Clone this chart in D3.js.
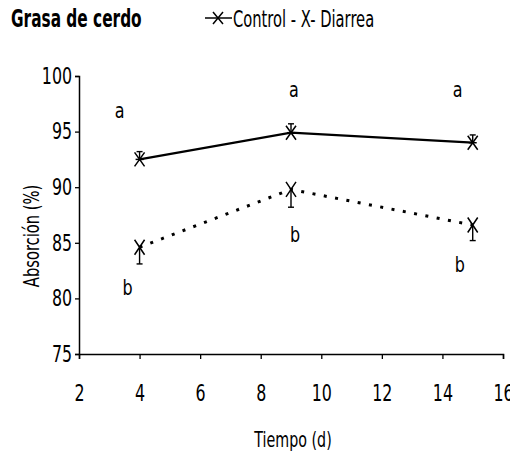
<!DOCTYPE html>
<html>
<head>
<meta charset="utf-8">
<script src="https://cdn.jsdelivr.net/npm/d3@7"></script>
<style>
  body { margin: 0; background: #fff; }
  text { font-family: "DejaVu Sans", sans-serif; fill: #000; }
</style>
</head>
<body>
<script>
var dias = [4, 9, 15];
var control = [92.5, 94.9, 94.0];
var controlErr = [0.7, 0.8, 0.7];
var diarrea = [84.6, 89.8, 86.6];
var diarreaErr = [1.5, 1.6, 1.4];
var letrasControl = ["a", "a", "a"];
var letrasDiarrea = ["b", "b", "b"];
var xTicks = [2, 4, 6, 8, 10, 12, 14, 16];
var yTicks = [75, 80, 85, 90, 95, 100];

var svg = d3.select("body").append("svg")
  .attr("width", 510).attr("height", 454);

var x = d3.scaleLinear().domain([2, 16]).range([79, 503]);
var y = d3.scaleLinear().domain([75, 100]).range([354, 76]);

// narrow-looking text: squeeze horizontally around its anchor
function narrowText(g, px, py, str, size, sx, anchor, rot) {
  return g.append("text")
    .attr("transform", "translate(" + px + "," + py + ")" + (rot ? " rotate(" + rot + ")" : "") + " scale(" + sx + ",1)")
    .attr("text-anchor", anchor || "start")
    .style("font-size", size + "px")
    .text(str);
}

// axes
svg.append("g")
  .attr("transform", "translate(0,354)")
  .call(d3.axisBottom(x).tickValues(xTicks).tickSize(5).tickPadding(26))
  .call(function(g) {
    g.select(".domain").attr("stroke-width", 1.5);
    g.selectAll("line").attr("stroke-width", 1.3);
    g.selectAll("text").style("font-size", "23px").attr("transform", "scale(0.69,1)");
  });

svg.append("g")
  .attr("transform", "translate(79,0)")
  .call(d3.axisLeft(y).tickValues(yTicks).tickSize(4).tickPadding(6))
  .call(function(g) {
    g.select(".domain").attr("stroke-width", 1.5);
    g.selectAll("line").attr("stroke-width", 1.3);
    g.selectAll("text").style("font-size", "23px").attr("transform", "scale(0.69,1)");
  });

// lines
var line = d3.line()
  .x(function(d, i) { return x(dias[i]); })
  .y(function(d) { return y(d); });

svg.append("path")
  .attr("d", line(control))
  .attr("fill", "none")
  .attr("stroke", "#000")
  .attr("stroke-width", 2.2);

svg.append("path")
  .attr("d", line(diarrea))
  .attr("fill", "none")
  .attr("stroke", "#000")
  .attr("stroke-width", 3)
  .attr("stroke-dasharray", "3,8.5");

// error bars
function errBars(vals, errs, dir) {
  var g = svg.append("g").attr("stroke", "#000").attr("stroke-width", 1.4);
  vals.forEach(function(v, i) {
    var cx = x(dias[i]);
    var y2 = y(v + dir * errs[i]);
    g.append("line").attr("x1", cx).attr("x2", cx).attr("y1", y(v)).attr("y2", y2);
    g.append("line").attr("x1", cx - 3).attr("x2", cx + 3).attr("y1", y2).attr("y2", y2);
  });
}
errBars(control, controlErr, 1);
errBars(diarrea, diarreaErr, -1);

// markers
function xMark(g, cx, cy, w, h) {
  g.append("path")
    .attr("d", "M" + (cx - w) + "," + (cy - h) + "L" + (cx + w) + "," + (cy + h) +
      "M" + (cx + w) + "," + (cy - h) + "L" + (cx - w) + "," + (cy + h))
    .attr("stroke", "#000").attr("stroke-width", 1.5).attr("fill", "none");
}
var mk = svg.append("g");
control.forEach(function(v, i) {
  xMark(mk, x(dias[i]), y(v), 5, 7);
  mk.append("line").attr("x1", x(dias[i]) - 4).attr("x2", x(dias[i]) + 4)
    .attr("y1", y(v)).attr("y2", y(v)).attr("stroke", "#000").attr("stroke-width", 1.5);
});
diarrea.forEach(function(v, i) {
  xMark(mk, x(dias[i]), y(v), 5, 7.5);
});

// letters
var offA = [[-20, -41], [3, -36], [-15, -46]];
var offB = [[-12, 48], [4, 53], [-13, 47]];
letrasControl.forEach(function(d, i) {
  narrowText(svg, x(dias[i]) + offA[i][0], y(control[i]) + offA[i][1], d, 21, 0.76, "middle");
});
letrasDiarrea.forEach(function(d, i) {
  narrowText(svg, x(dias[i]) + offB[i][0], y(diarrea[i]) + offB[i][1], d, 21, 0.76, "middle");
});

// title + legend
narrowText(svg, 11, 27, "Grasa de cerdo", 24, 0.64, "start").style("font-weight", "bold");

var lg = svg.append("g");
lg.append("line").attr("x1", 205).attr("x2", 232).attr("y1", 18).attr("y2", 18)
  .attr("stroke", "#000").attr("stroke-width", 1.5);
xMark(lg, 218, 18, 5, 6);
narrowText(lg, 233, 27, "Control - X- Diarrea", 23, 0.64, "start");

// axis titles
narrowText(svg, 293, 447, "Tiempo (d)", 21, 0.68, "middle");
narrowText(svg, 39, 236, "Absorción (%)", 21, 0.7, "middle", -90);
</script>
</body>
</html>
